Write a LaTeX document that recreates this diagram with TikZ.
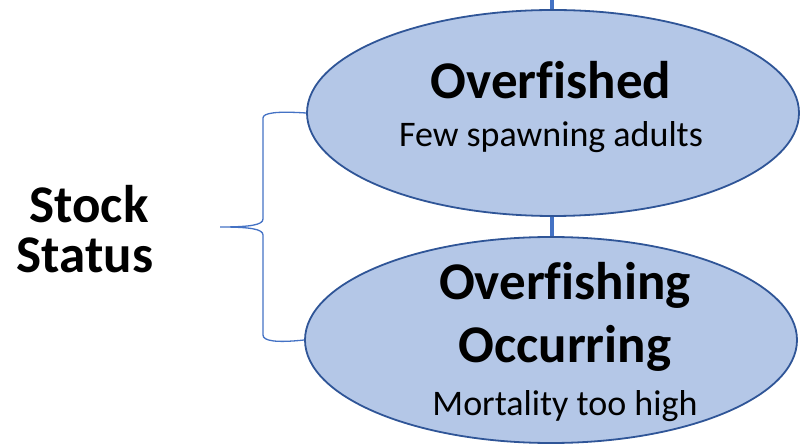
\documentclass[tikz,border=0pt]{standalone}
\usepackage{fontspec}
\setmainfont[Ligatures=NoCommon]{Carlito}
\usetikzlibrary{shapes.geometric}
\definecolor{ellfill}{HTML}{B4C7E7}
\definecolor{elldraw}{HTML}{2F5597}
\definecolor{linkblue}{HTML}{4472C4}
\tikzset{
  oval/.style={ellipse, draw=elldraw, line width=1.8pt, fill=ellfill, minimum width=492pt, minimum height=206pt, inner sep=0pt},
  bigtxt/.style={anchor=base, inner sep=0pt, font=\fontsize{53}{63}\selectfont\bfseries},
  smalltxt/.style={anchor=base, inner sep=0pt, font=\fontsize{36}{43}\selectfont},
  link/.style={draw=linkblue, line width=4pt},
  bracestyle/.style={draw=linkblue, line width=1.3pt}
}
\begin{document}
\begin{tikzpicture}[x=1pt,y=1pt]
\useasboundingbox (0,0) rectangle (808,447);
\coordinate (topend) at (552,447);
\node[oval] (over) at (553,334) {};
\node[oval] (occ) at (551,107) {};
\draw[link] (topend) -- (over.north -| topend);
\draw[link] (over.south -| topend) -- (occ.north -| topend);
\node[bigtxt] (t1) at (551,348) {Overfished};
\node[smalltxt] (t2) at (551,300) {Few spawning adults};
\node[bigtxt] (t3) at (565,147) {Overfishing};
\node[bigtxt] (t4) at (565,84) {Occurring};
\node[smalltxt] (t5) at (565,32) {Mortality too high};
\node[bigtxt] (s1) at (89,224) {Stock};
\node[bigtxt] (s2) at (85,174) {Status};
\coordinate (tip) at (220,220);
\draw[bracestyle] (over.west) .. controls (276,336) and (263,334) .. (263,329) -- (263,228)
  .. controls (263,222) and (250,220) .. (tip)
  .. controls (250,220) and (263,218) .. (263,212) -- (263,112)
  .. controls (263,106) and (276,104) .. (occ.west);
\end{tikzpicture}
\end{document}
